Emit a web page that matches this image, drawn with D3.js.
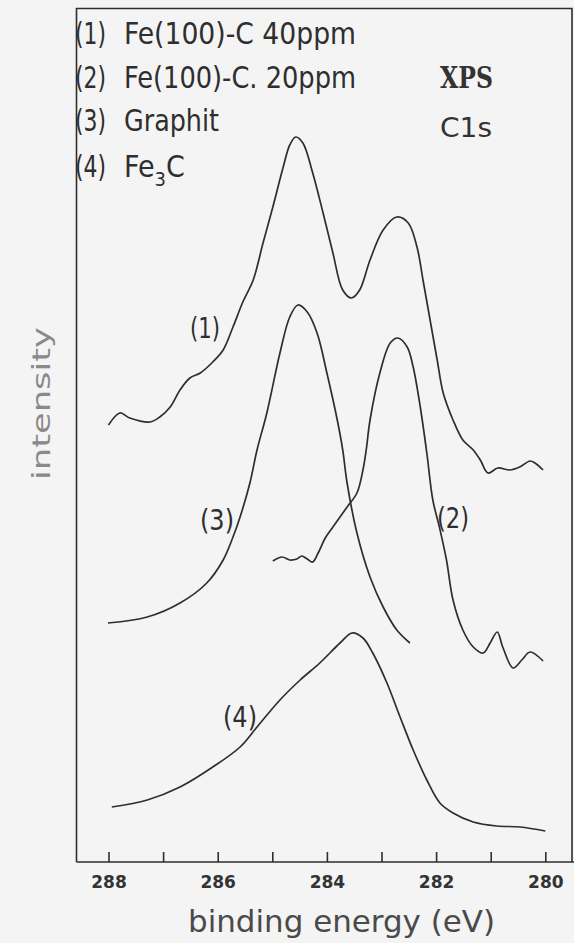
<!DOCTYPE html>
<html>
<head>
<meta charset="utf-8">
<script src="https://cdn.jsdelivr.net/npm/d3@7"></script>
<style>
  html, body { margin: 0; padding: 0; background: #f4f4f4; }
  svg { display: block; }
</style>
</head>
<body>
<svg id="chart" width="574" height="943"></svg>
<script>
// XPS C1s spectra: binding energy (eV) vs. intensity (arbitrary units, offset per trace)
const energyTicks = [288, 287, 286, 285, 284, 283, 282, 281, 280];

// (1) Fe(100)-C 40ppm
const e1 = [288.00, 287.79, 287.61, 287.24, 287.06, 286.87, 286.69, 286.51, 286.32, 286.09, 285.90, 285.72, 285.54, 285.35, 285.17, 284.99, 284.80, 284.68, 284.57, 284.44, 284.26, 284.07, 283.89, 283.71, 283.55, 283.40, 283.21, 282.97, 282.72, 282.51, 282.35, 282.24, 282.11, 281.98, 281.87, 281.69, 281.51, 281.32, 281.19, 281.05, 280.87, 280.65, 280.47, 280.28, 280.19, 280.04];
const i1 = [43.7, 44.9, 44.4, 44.0, 44.5, 45.5, 47.2, 48.4, 48.9, 50.0, 51.2, 53.5, 56.0, 58.2, 61.9, 65.5, 69.5, 71.7, 72.5, 71.9, 68.9, 64.9, 60.9, 57.2, 56.4, 57.2, 60.2, 63.2, 64.5, 63.9, 61.5, 58.2, 54.2, 50.2, 46.9, 44.2, 42.2, 41.2, 40.2, 38.9, 39.4, 39.2, 39.5, 40.1, 39.9, 39.2];

// (2) Fe(100)-C. 20ppm
const e2 = [284.99, 284.82, 284.68, 284.55, 284.46, 284.36, 284.26, 284.16, 284.03, 283.89, 283.63, 283.45, 283.34, 283.28, 283.21, 283.03, 282.84, 282.70, 282.53, 282.42, 282.29, 282.17, 282.06, 281.94, 281.81, 281.69, 281.51, 281.32, 281.14, 281.01, 280.88, 280.78, 280.59, 280.43, 280.28, 280.04];
const i2 = [30.1, 30.5, 30.2, 30.3, 30.6, 30.3, 30.0, 30.9, 32.4, 33.5, 35.5, 36.9, 39.2, 41.2, 44.2, 48.9, 51.9, 52.4, 51.5, 49.5, 45.5, 40.9, 36.2, 33.5, 30.2, 26.2, 23.2, 21.5, 20.9, 21.9, 23.0, 21.5, 19.4, 20.2, 21.0, 20.1];

// (3) Graphit
const e3 = [288.01, 287.29, 286.69, 286.20, 285.90, 285.72, 285.59, 285.41, 285.28, 285.10, 284.86, 284.68, 284.53, 284.36, 284.18, 284.00, 283.81, 283.71, 283.63, 283.45, 283.21, 282.97, 282.72, 282.48];
const i3 = [23.9, 24.5, 25.9, 27.9, 30.2, 32.5, 34.5, 37.9, 41.2, 44.9, 50.9, 54.5, 55.7, 55.0, 52.9, 48.9, 44.2, 41.2, 37.9, 32.9, 28.5, 25.5, 23.2, 21.9];

// (4) Fe3C
const e4 = [287.94, 287.29, 286.69, 286.09, 285.59, 285.28, 284.86, 284.49, 284.13, 283.76, 283.54, 283.34, 283.16, 282.90, 282.66, 282.42, 282.17, 281.93, 281.69, 281.32, 280.89, 280.46, 280.00];
const i4 = [5.5, 6.2, 7.5, 9.5, 11.5, 13.5, 16.2, 18.2, 19.9, 21.9, 22.9, 22.4, 20.9, 17.9, 14.5, 11.2, 8.2, 5.9, 4.9, 4.0, 3.6, 3.5, 3.1];

const traceLabels = ["(1)", "(2)", "(3)", "(4)"];
const legendTexts = ["Fe(100)-C 40ppm", "Fe(100)-C. 20ppm", "Graphit", "Fe"];

const svg = d3.select("#chart");
const ink = "#2e2e2e";

const frameL = 76.5, frameT = 8.5, frameR = 572, frameB = 862;

const x = d3.scaleLinear().domain([288, 280]).range([108.5, 545.3]);
const y = d3.scaleLinear().domain([0, 85]).range([frameB, 12]);

// frame
svg.append("path")
  .attr("d", `M${frameL},${frameB} V${frameT} H${frameR} V${frameB}`)
  .attr("fill", "none").attr("stroke", ink).attr("stroke-width", 1.6);
svg.append("line")
  .attr("x1", frameL).attr("x2", 574).attr("y1", frameB).attr("y2", frameB)
  .attr("stroke", ink).attr("stroke-width", 1.6);

// bottom axis with inward ticks
const axis = d3.axisBottom(x)
  .tickValues(energyTicks)
  .tickSize(-10)
  .tickPadding(14)
  .tickFormat(d => d % 2 === 0 ? String(d) : "");
const gx = svg.append("g").attr("transform", `translate(0,${frameB})`).call(axis);
gx.select(".domain").remove();
gx.selectAll(".tick line").attr("stroke", ink).attr("stroke-width", 1.6);
gx.selectAll(".tick text")
  .attr("fill", "#333")
  .attr("font-family", "DejaVu Sans, sans-serif")
  .attr("font-size", 17)
  .attr("font-weight", "bold")
  .attr("dy", "0.71em");

// axis titles
svg.append("text")
  .attr("x", 188).attr("y", 932)
  .attr("textLength", 307).attr("lengthAdjust", "spacingAndGlyphs")
  .attr("font-family", "DejaVu Sans Condensed, DejaVu Sans, sans-serif")
  .attr("font-size", 30).attr("font-weight", 300)
  .attr("fill", "#4a4a4a")
  .text("binding energy (eV)");

svg.append("text")
  .attr("transform", "translate(50,480) rotate(-90)")
  .attr("textLength", 153).attr("lengthAdjust", "spacingAndGlyphs")
  .attr("font-family", "DejaVu Sans Condensed, DejaVu Sans, sans-serif")
  .attr("font-size", 25).attr("font-weight", 300)
  .attr("fill", "#8a8a8a")
  .text("intensity");

// spectra
const line = d3.line()
  .x(d => x(d[0]))
  .y(d => y(d[1]))
  .curve(d3.curveCatmullRom.alpha(0.5));

const series = [[e1, i1], [e2, i2], [e3, i3], [e4, i4]];
svg.append("g").selectAll("path")
  .data(series)
  .join("path")
  .attr("d", ([es, is]) => line(es.map((e, k) => [e, is[k]])))
  .attr("fill", "none")
  .attr("stroke", ink)
  .attr("stroke-width", 1.7)
  .attr("stroke-linejoin", "round");

// trace labels
const labelFont = "DejaVu Sans Condensed, DejaVu Sans, sans-serif";
const labelPos = [[190, 338, 30], [437, 528, 32], [200, 530, 34], [223, 727, 34]];
svg.append("g").selectAll("text")
  .data(traceLabels)
  .join("text")
  .attr("x", (d, k) => labelPos[k][0])
  .attr("y", (d, k) => labelPos[k][1])
  .attr("textLength", (d, k) => labelPos[k][2])
  .attr("lengthAdjust", "spacingAndGlyphs")
  .attr("font-family", labelFont)
  .attr("font-size", 29)
  .attr("font-weight", 300)
  .attr("fill", ink)
  .text(d => d);

// legend
const legendY = [44, 88, 131, 177];
const legendLen = [232, 232, 95, 0];
const lg = svg.append("g");
traceLabels.forEach((t, k) => {
  lg.append("text")
    .attr("x", 75).attr("y", legendY[k])
    .attr("textLength", 31).attr("lengthAdjust", "spacingAndGlyphs")
    .attr("font-family", labelFont).attr("font-size", 30).attr("font-weight", 300)
    .attr("fill", ink).text(t);
  const tx = lg.append("text")
    .attr("x", 124).attr("y", legendY[k])
    .attr("font-family", labelFont).attr("font-size", 30).attr("font-weight", 300)
    .attr("fill", ink);
  if (k < 3) {
    tx.attr("textLength", legendLen[k]).attr("lengthAdjust", "spacingAndGlyphs").text(legendTexts[k]);
  } else {
    tx.append("tspan").text(legendTexts[k]);
    tx.append("tspan").attr("font-size", 20).attr("dy", 9).text("3");
    tx.append("tspan").attr("dy", -9).text("C");
  }
});

// method annotations
svg.append("text")
  .attr("x", 440).attr("y", 88)
  .attr("textLength", 53).attr("lengthAdjust", "spacingAndGlyphs")
  .attr("font-family", "DejaVu Serif Condensed, DejaVu Serif, serif").attr("font-size", 30)
  .attr("font-weight", "bold")
  .attr("fill", "#333").text("XPS");
svg.append("text")
  .attr("x", 440).attr("y", 137)
  .attr("textLength", 52).attr("lengthAdjust", "spacingAndGlyphs")
  .attr("font-family", "DejaVu Sans, sans-serif").attr("font-size", 27)
  .attr("fill", "#333").text("C1s");
</script>
</body>
</html>
